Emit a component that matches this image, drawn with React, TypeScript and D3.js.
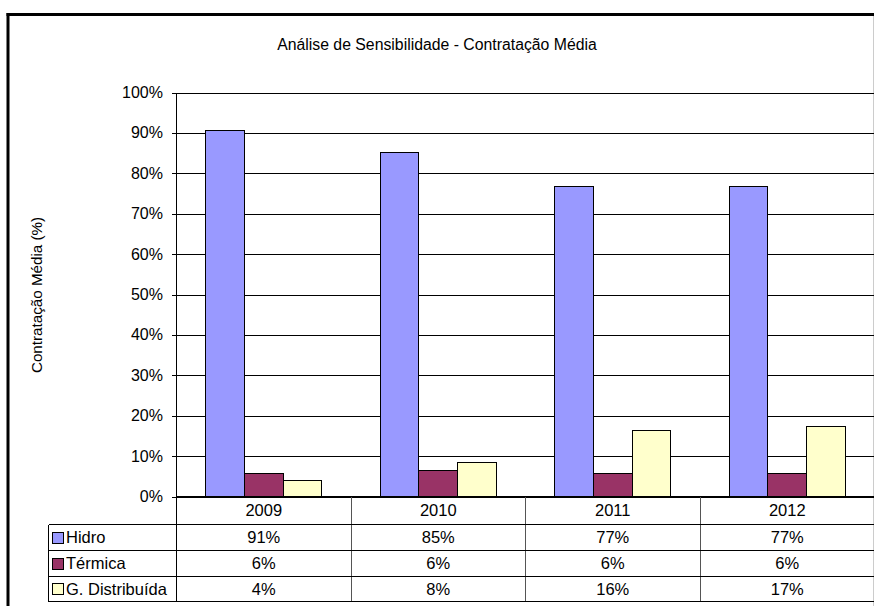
import * as d3 from "d3";

const years = ["2009", "2010", "2011", "2012"];
const seriesNames = ["Hidro", "Térmica", "G. Distribuída"];
const hidro = [90.6, 85.2, 76.8, 76.8];
const termica = [5.6, 6.4, 5.6, 5.6];
const distribuida = [4.0, 8.3, 16.3, 17.4];
const seriesColors = ["#9999FF", "#993366", "#FFFFCC"];
const yTicks = [0, 10, 20, 30, 40, 50, 60, 70, 80, 90, 100];

const W = 874;
const H = 606;
const font = "'Liberation Sans', Arial, sans-serif";
const fs = 16;

export default function App() {
    const series = [hidro, termica, distribuida];

    const plot = {left: 176.5, right: 874.5, top: 92.5, bottom: 496.5};
    const rowLines = [524.5, 550.5, 576.5, 601.5];
    const tableLeft = 48.5;

    const x = d3.scaleBand<string>()
        .domain(years)
        .range([plot.left, plot.right])
        .paddingInner(0)
        .paddingOuter(0);

    const xs = d3.scaleBand<string>()
        .domain(seriesNames)
        .range([0, x.bandwidth()])
        .paddingInner(0)
        .paddingOuter(0.75);

    const y = d3.scaleLinear()
        .domain([0, 100])
        .range([plot.bottom, plot.top]);

    const rowTops = [plot.bottom, ...rowLines];

    return (
        <svg width={W} height={H} viewBox={`0 0 ${W} ${H}`}
             style={{position: "absolute", left: 0, top: 0, background: "#fff"}}
             fontFamily={font}>
            <rect x={0} y={0} width={W} height={H} fill="#fff"/>
            {/* outer chart border */}
            <line x1={8} x2={8} y1={13} y2={H} stroke="#000" strokeWidth={3}/>
            <line x1={6.5} x2={W} y1={14.5} y2={14.5} stroke="#000" strokeWidth={3}/>
            <line x1={873.5} x2={873.5} y1={16} y2={H} stroke="#ccc" strokeWidth={1}/>

            <text x={437} y={50} textAnchor="middle" fontSize={15.8} fill="#000">
                Análise de Sensibilidade - Contratação Média
            </text>

            <text transform={`translate(42,295) rotate(-90)`} textAnchor="middle" fontSize={15.2} fill="#000">
                Contratação Média (%)
            </text>

            {/* gridlines */}
            <g shapeRendering="crispEdges">
                {yTicks.map(t => (
                    <g key={t}>
                        <line x1={plot.left} x2={plot.right} y1={Math.round(y(t)) + 0.5} y2={Math.round(y(t)) + 0.5}
                              stroke="#000" strokeWidth={1}/>
                        <line x1={plot.left - 5} x2={plot.left} y1={Math.round(y(t)) + 0.5} y2={Math.round(y(t)) + 0.5}
                              stroke="#000"/>
                    </g>
                ))}
            </g>
            {yTicks.map(t => (
                <text key={t} x={163} y={y(t) + 5.5} textAnchor="end" fontSize={fs} fill="#000">{t}%</text>
            ))}

            {/* bars */}
            <g shapeRendering="crispEdges">
                {years.map((yr, i) => (
                    <g key={yr} transform={`translate(${x(yr)},0)`}>
                        {series.map((s, j) => (
                            <rect key={j}
                                  x={xs(seriesNames[j])!}
                                  y={y(s[i])}
                                  width={xs.bandwidth()}
                                  height={plot.bottom - y(s[i])}
                                  fill={seriesColors[j]}
                                  stroke="#000" strokeWidth={1}/>
                        ))}
                    </g>
                ))}
            </g>

            {/* axis and data table */}
            <g shapeRendering="crispEdges" stroke="#000" strokeWidth={1}>
                <line x1={plot.left} x2={plot.left} y1={plot.top} y2={rowLines[3]}/>
                <line x1={plot.left} x2={plot.right} y1={plot.bottom} y2={plot.bottom}/>
                {years.slice(1).map(yr => (
                    <line key={yr} x1={x(yr)!} x2={x(yr)!} y1={plot.bottom} y2={rowLines[3]} stroke="#555"/>
                ))}
                {rowLines.map(r => (
                    <line key={r} x1={tableLeft} x2={plot.right} y1={r} y2={r}/>
                ))}
                <line x1={tableLeft} x2={tableLeft} y1={rowLines[0]} y2={rowLines[3]}/>
            </g>

            {years.map(yr => (
                <text key={yr} x={x(yr)! + x.bandwidth() / 2} y={(rowTops[0] + rowTops[1]) / 2 + 5.5}
                      textAnchor="middle" fontSize={16.5} fill="#000">{yr}</text>
            ))}

            {seriesNames.map((name, j) => {
                const mid = (rowTops[j + 1] + rowTops[j + 2]) / 2;
                return (
                    <g key={name}>
                        <rect x={52.5} y={Math.round(mid) - 5.5} width={11} height={11}
                              fill={seriesColors[j]} stroke="#000" strokeWidth={1} shapeRendering="crispEdges"/>
                        <text x={66} y={mid + 5.5} fontSize={16.5} fill="#000">{name}</text>
                        {years.map((yr, i) => (
                            <text key={yr} x={x(yr)! + x.bandwidth() / 2} y={mid + 5.5}
                                  textAnchor="middle" fontSize={16.5} fill="#000">
                                {Math.round(series[j][i])}%
                            </text>
                        ))}
                    </g>
                );
            })}
        </svg>
    );
}
